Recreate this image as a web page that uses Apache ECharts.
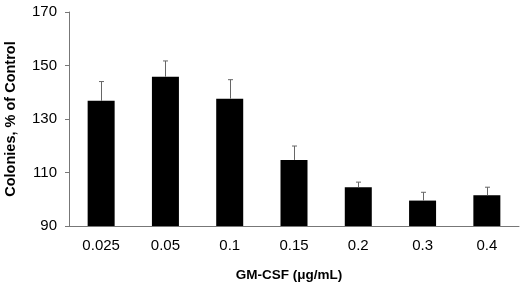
<!DOCTYPE html>
<html><head><meta charset="utf-8">
<script src="https://cdn.jsdelivr.net/npm/echarts@6/dist/echarts.min.js"></script>
<style>html,body{margin:0;padding:0;background:#fff}#c{width:520px;height:289px}</style>
</head><body><div id="c"></div>
<script>
var categories = ['0.025','0.05','0.1','0.15','0.2','0.3','0.4'];
var values = [136.8, 145.8, 137.6, 114.7, 104.5, 99.5, 101.5];
var errorTops = [144.0, 151.7, 144.7, 119.9, 106.4, 102.6, 104.5];
var yTicks = [90, 110, 130, 150, 170];

var chart = echarts.init(document.getElementById('c'));
var axisColor = '#777';
chart.setOption({
  animation: false,
  grid: {left: 69, right: 1, top: 12, bottom: 63, containLabel: false, outerBoundsMode: 'none'},
  xAxis: {
    type: 'category', data: categories,
    name: 'GM-CSF (\u03bcg/mL)', nameLocation: 'middle', nameGap: 42,
    nameTextStyle: {fontFamily: 'Liberation Sans', fontWeight: 'bold', fontSize: 13.5, color: '#000', padding: [0,0,0,-10]},
    axisLine: {lineStyle: {color: axisColor, width: 1}},
    axisTick: {alignWithLabel: false, length: 5, lineStyle: {color: axisColor}},
    axisLabel: {fontFamily: 'Liberation Sans', fontSize: 15, color: '#000', margin: 12}
  },
  yAxis: {
    type: 'value', min: yTicks[0], max: yTicks[yTicks.length-1], interval: 20,
    name: 'Colonies, % of Control', nameLocation: 'middle', nameGap: 51,
    nameTextStyle: {fontFamily: 'Liberation Sans', fontWeight: 'bold', fontSize: 14.5, color: '#000'},
    axisLine: {show: true, lineStyle: {color: axisColor, width: 1}},
    axisTick: {show: true, length: 4, lineStyle: {color: axisColor}},
    splitLine: {show: false},
    axisLabel: {fontFamily: 'Liberation Sans', fontSize: 15, color: '#000', margin: 12}
  },
  series: [{
    type: 'bar', data: values, barWidth: 27,
    itemStyle: {color: '#000'}, z: 2
  }, {
    type: 'custom', z: 3,
    data: categories.map(function(c, i){ return [i, values[i], errorTops[i]]; }),
    renderItem: function(params, api){
      var p0 = api.coord([api.value(0), api.value(1)]);
      var p1 = api.coord([api.value(0), api.value(2)]);
      var x = Math.round(p0[0]) + 0.5;
      return {type: 'group', children: [
        {type: 'line', shape: {x1: x, y1: p0[1], x2: x, y2: p1[1]}, style: {stroke: '#666', lineWidth: 1}},
        {type: 'line', shape: {x1: x-2.5, y1: p1[1], x2: x+2.5, y2: p1[1]}, style: {stroke: '#666', lineWidth: 1}}
      ]};
    }
  }]
});
</script></body></html>
